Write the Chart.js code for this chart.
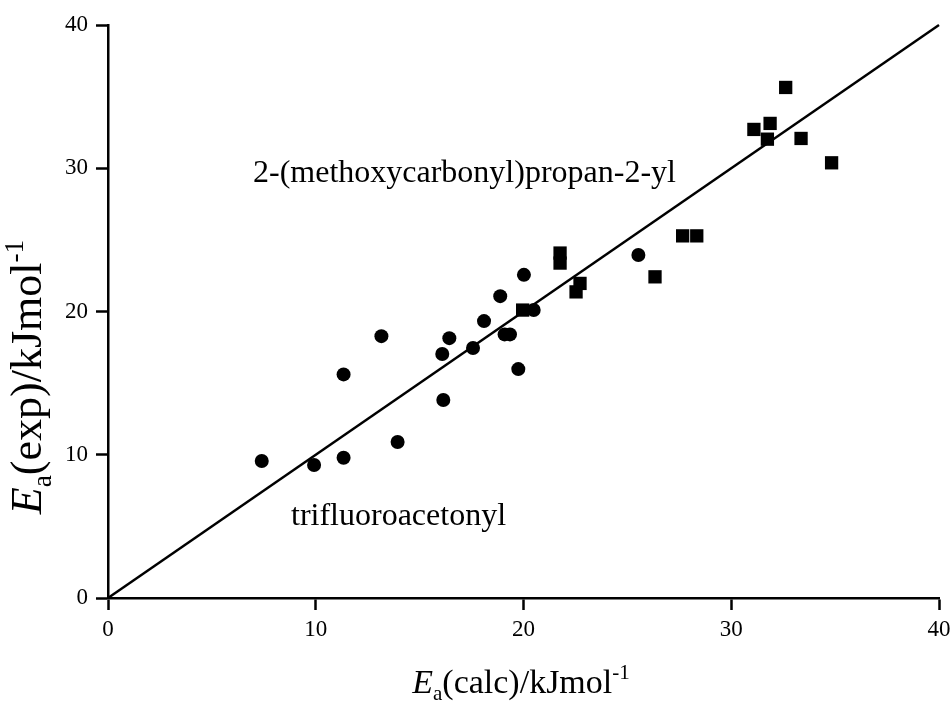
<!DOCTYPE html>
<html>
<head>
<meta charset="utf-8">
<script src="https://cdn.jsdelivr.net/npm/chart.js@4"></script>
<style>
  body { margin: 0; background: #fff; }
  #wrap { width: 951px; height: 708px; }
</style>
</head>
<body>
<div id="wrap"><canvas id="plot" width="951" height="708"></canvas></div>
<script>
// trifluoroacetonyl set (circles)
const circleCalc = [7.40, 9.92, 11.34, 11.34, 13.16, 13.94, 16.14, 16.09, 16.43, 17.57, 18.10, 18.88, 19.09, 19.35, 19.75, 20.02, 20.49, 25.53];
const circleExp  = [9.56, 9.28, 9.79, 15.61, 18.28, 10.89, 13.82, 17.03, 18.14, 17.45, 19.33, 21.07, 18.40, 18.40, 15.98, 22.56, 20.10, 23.94];

// 2-(methoxycarbonyl)propan-2-yl set (squares)
const squareCalc = [19.96, 21.76, 21.76, 22.72, 22.53, 26.33, 27.66, 28.34, 31.09, 31.87, 31.74, 33.36, 32.62, 34.83];
const squareExp  = [20.10, 24.08, 23.38, 21.96, 21.37, 22.42, 25.28, 25.28, 32.71, 33.13, 32.03, 32.08, 35.64, 30.38];

// y = x reference line
const lineCalc = [0, 40];
const lineExp = [0, 40];

const axisTicks = [0, 10, 20, 30, 40];

const serif = '"Liberation Serif", "DejaVu Serif", serif';

function toPoints(xs, ys) {
    return xs.map((x, i) => ({ x: x, y: ys[i] }));
}

// draws text with italic / subscript / superscript pieces, centred on (0,0) after transform
function drawRich(ctx, parts, size) {
    let total = 0;
    const widths = parts.map(p => {
        const s = p.sub || p.sup ? size * 0.62 : size;
        ctx.font = (p.italic ? 'italic ' : '') + s + 'px ' + serif;
        const w = ctx.measureText(p.t).width;
        total += w;
        return w;
    });
    let x = -total / 2;
    parts.forEach((p, i) => {
        const s = p.sub || p.sup ? size * 0.62 : size;
        ctx.font = (p.italic ? 'italic ' : '') + s + 'px ' + serif;
        let dy = 0;
        if (p.sub) dy = size * 0.22;
        if (p.sup) dy = -size * 0.42;
        ctx.fillText(p.t, x, dy);
        x += widths[i];
    });
}

const labelsPlugin = {
    id: 'labels',
    afterDraw(chart) {
        const ctx = chart.ctx;
        ctx.save();
        ctx.fillStyle = '#000';
        ctx.textBaseline = 'alphabetic';
        ctx.textAlign = 'left';

        // annotations
        ctx.font = '32px ' + serif;
        ctx.fillText('2-(methoxycarbonyl)propan-2-yl', 253, 182);
        ctx.fillText('trifluoroacetonyl', 291, 525);

        // x axis title
        ctx.save();
        ctx.translate(521, 693);
        drawRich(ctx, [
            { t: 'E', italic: true },
            { t: 'a', sub: true },
            { t: '(calc)/kJmol' },
            { t: '-1', sup: true }
        ], 34);
        ctx.restore();

        // y axis title
        ctx.save();
        ctx.translate(41, 377);
        ctx.rotate(-Math.PI / 2);
        drawRich(ctx, [
            { t: 'E', italic: true },
            { t: 'a', sub: true },
            { t: '(exp)/kJmol' },
            { t: '-1', sup: true }
        ], 44);
        ctx.restore();

        ctx.restore();
    }
};

const axisStyle = {
    type: 'linear',
    min: 0,
    max: 40,
    afterBuildTicks: scale => { scale.ticks = axisTicks.map(v => ({ value: v })); },
    grid: {
        display: true,
        drawOnChartArea: false,
        drawTicks: true,
        tickLength: 12,
        tickWidth: 2.5,
        color: '#000'
    },
    border: { display: true, color: '#000', width: 2.5 },
    title: { display: false }
};

new Chart(document.getElementById('plot'), {
    data: {
        datasets: [
            {
                type: 'line',
                data: toPoints(lineCalc, lineExp),
                borderColor: '#000',
                borderWidth: 2.5,
                pointRadius: 0,
                fill: false
            },
            {
                type: 'scatter',
                data: toPoints(circleCalc, circleExp),
                pointStyle: 'circle',
                pointRadius: 7,
                backgroundColor: '#000',
                borderColor: '#000',
                borderWidth: 0
            },
            {
                type: 'scatter',
                data: toPoints(squareCalc, squareExp),
                pointStyle: 'rect',
                pointRadius: 9.4,
                backgroundColor: '#000',
                borderColor: '#000',
                borderWidth: 0
            }
        ]
    },
    options: {
        responsive: false,
        animation: false,
        clip: false,
        layout: { padding: { top: 25, right: 12, left: 0, bottom: 0 } },
        plugins: {
            legend: { display: false },
            tooltip: { enabled: false }
        },
        scales: {
            x: Object.assign({}, axisStyle, {
                position: 'bottom',
                afterFit: scale => {
                    scale.height = 110;
                    scale.paddingLeft = 0;
                    scale.paddingRight = 0;
                },
                ticks: { color: '#000', padding: 6, font: { family: serif, size: 23 } }
            }),
            y: Object.assign({}, axisStyle, {
                position: 'left',
                afterFit: scale => {
                    scale.width = 108;
                    scale.paddingTop = 0;
                    scale.paddingBottom = 0;
                },
                ticks: { color: '#000', padding: 8, font: { family: serif, size: 23 } }
            })
        }
    },
    plugins: [labelsPlugin]
});
</script>
</body>
</html>
